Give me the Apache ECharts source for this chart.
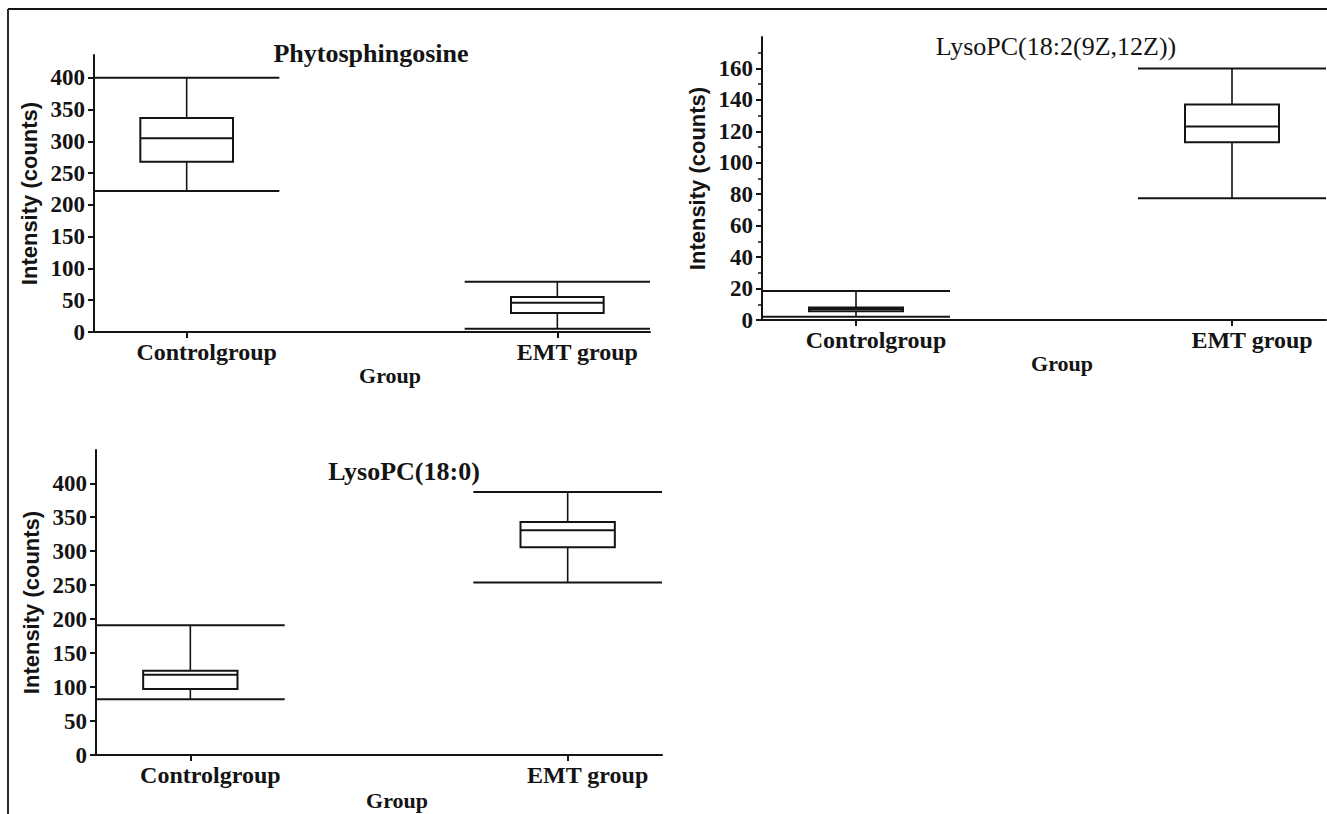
<!DOCTYPE html>
<html>
<head>
<meta charset="utf-8">
<script src="https://cdn.jsdelivr.net/npm/echarts@6/dist/echarts.min.js"></script>
<style>
html,body{margin:0;padding:0;background:#fff;}
#c{width:1327px;height:814px;}
</style>
</head>
<body>
<div id="c"></div>
<script>
// ---- data ----
const categories = ['Controlgroup', 'EMT group'];
const categoryPositions = [1, 2];
// [min, Q1, median, Q3, max]
const phytoControl = [222, 268, 305, 337, 400];
const phytoEMT = [5, 30, 46, 55, 79];
const lyso182Control = [2, 5.5, 7, 8, 18.4];
const lyso182EMT = [77.5, 113, 123, 137, 160];
const lyso180Control = [82, 97, 118, 124, 191];
const lyso180EMT = [254, 306, 331, 343, 387];
const phytoTicks = [0, 50, 100, 150, 200, 250, 300, 350, 400];
const lyso182Ticks = [0, 20, 40, 60, 80, 100, 120, 140, 160];
const lyso180Ticks = [0, 50, 100, 150, 200, 250, 300, 350, 400];
const titles = ['Phytosphingosine', 'LysoPC(18:2(9Z,12Z))', 'LysoPC(18:0)'];
const yName = 'Intensity (counts)';
const xName = 'Group';

// ---- styling ----
const INK = '#141414';
const SERIF = '"Liberation Serif", "Times New Roman", serif';
const SANS = '"Liberation Sans", Arial, sans-serif';

function boxRows(control, emt) {
  return [[categoryPositions[0]].concat(control), [categoryPositions[1]].concat(emt)];
}

function renderBox(params, api) {
  const x = api.value(0);
  const pMin = api.coord([x, api.value(1)]);
  const pQ1 = api.coord([x, api.value(2)]);
  const pMed = api.coord([x, api.value(3)]);
  const pQ3 = api.coord([x, api.value(4)]);
  const pMax = api.coord([x, api.value(5)]);
  const capHalf = api.size([0.25, 0])[0];
  const boxHalf = api.size([0.125, 0])[0];
  const cx = pMed[0];
  const ls = {stroke: INK, lineWidth: 2};
  const thin = {stroke: INK, lineWidth: 1.6};
  return {
    type: 'group',
    children: [
      {type: 'line', shape: {x1: cx - capHalf, y1: pMax[1], x2: cx + capHalf, y2: pMax[1]}, style: ls},
      {type: 'line', shape: {x1: cx - capHalf, y1: pMin[1], x2: cx + capHalf, y2: pMin[1]}, style: ls},
      {type: 'line', shape: {x1: cx, y1: pMax[1], x2: cx, y2: pQ3[1]}, style: thin},
      {type: 'line', shape: {x1: cx, y1: pQ1[1], x2: cx, y2: pMin[1]}, style: thin},
      {type: 'rect', shape: {x: cx - boxHalf, y: pQ3[1], width: boxHalf * 2, height: pQ1[1] - pQ3[1]},
        style: {fill: '#fff', stroke: INK, lineWidth: 2}},
      {type: 'line', shape: {x1: cx - boxHalf, y1: pMed[1], x2: cx + boxHalf, y2: pMed[1]}, style: ls}
    ]
  };
}

const grids = [
  {left: 94, right: 677, top: 55, bottom: 482},
  {left: 762, right: 1, top: 37, bottom: 494},
  {left: 96, right: 665, top: 450, bottom: 59}
];
const yMax = [436, 180, 449];
const yInterval = [50, 20, 50];
const yTicks = [phytoTicks, lyso182Ticks, lyso180Ticks];
const series = [boxRows(phytoControl, phytoEMT), boxRows(lyso182Control, lyso182EMT), boxRows(lyso180Control, lyso180EMT)];

const xAxes = grids.map((g, i) => ({
  type: 'value', gridIndex: i, min: 0.75, max: 2.25,
  axisLine: {show: true, lineStyle: {color: INK, width: 2}},
  axisTick: {show: true, customValues: categoryPositions, length: 6, lineStyle: {color: INK, width: 2}},
  axisLabel: {
    customValues: categoryPositions,
    formatter: v => categories[Math.round(v) - 1] || '',
    color: INK, fontFamily: SERIF, fontWeight: 'bold', fontSize: 24,
    margin: 8, padding: [0, 0, 0, 40]
  },
  splitLine: {show: false},
  name: xName, nameLocation: 'middle', nameGap: i === 2 ? 34 : 31,
  nameTextStyle: {color: INK, fontFamily: SERIF, fontWeight: 'bold', fontSize: 22, padding: [0, 0, 0, 36]}
}));

const yAxes = grids.map((g, i) => ({
  type: 'value', gridIndex: i, min: 0, max: yMax[i], interval: yInterval[i],
  axisLine: {show: true, lineStyle: {color: INK, width: 2}},
  axisTick: {show: true, customValues: yTicks[i], length: 6, lineStyle: {color: INK, width: 2}},
  minorTick: {show: i === 1, splitNumber: 2, length: 4, lineStyle: {color: INK, width: 1.5}},
  axisLabel: {
    customValues: yTicks[i],
    color: INK, fontFamily: SERIF, fontWeight: 'bold', fontSize: 23, margin: 9
  },
  splitLine: {show: false},
  name: yName, nameLocation: 'middle', nameGap: 54, nameRotate: 90,
  nameTextStyle: {color: INK, fontFamily: SANS, fontWeight: 'bold', fontSize: 22}
}));

const titlePos = [[371, 53], [1056, 46], [404, 471]];
const titleWeight = ['bold', 'normal', 'bold'];

const chart = echarts.init(document.getElementById('c'), null, {renderer: 'svg'});
chart.setOption({
  backgroundColor: '#fff',
  animation: false,
  grid: grids,
  xAxis: xAxes,
  yAxis: yAxes,
  series: series.map((d, i) => ({
    type: 'custom', xAxisIndex: i, yAxisIndex: i,
    renderItem: renderBox, data: d, clip: false, silent: true
  })),
  graphic: [
    {type: 'line', shape: {x1: 8, y1: 9, x2: 1327, y2: 9}, style: {stroke: INK, lineWidth: 1.8}, silent: true},
    {type: 'line', shape: {x1: 8, y1: 9, x2: 8, y2: 814}, style: {stroke: INK, lineWidth: 1.8}, silent: true}
  ].concat(titles.map((t, i) => ({
    type: 'text', x: titlePos[i][0], y: titlePos[i][1], silent: true,
    style: {text: t, fill: INK, font: titleWeight[i] + ' 26px ' + SERIF, textAlign: 'center', textVerticalAlign: 'middle'}
  })))
});
</script>
</body>
</html>
